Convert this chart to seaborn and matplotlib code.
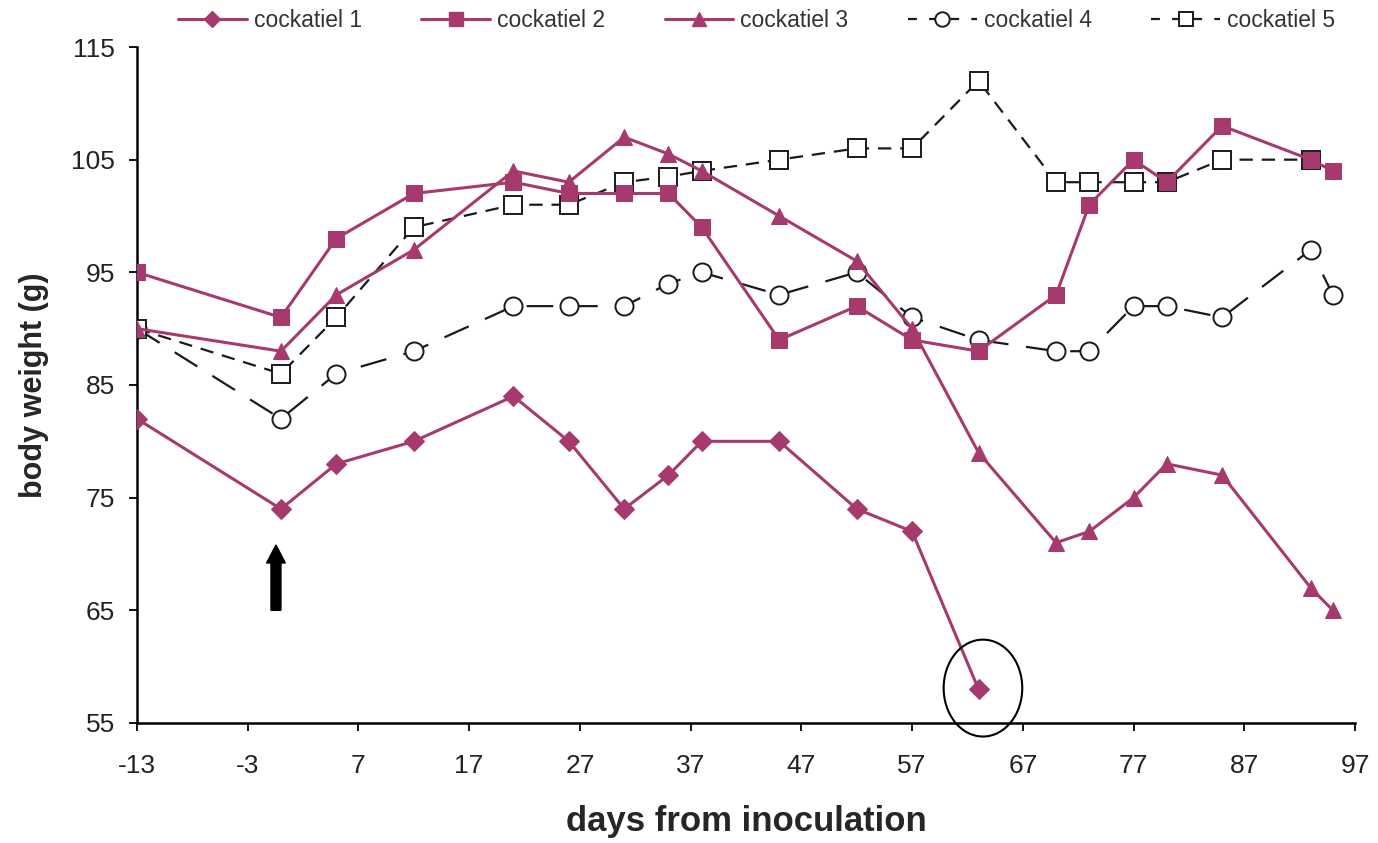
import matplotlib
matplotlib.use("Agg")
import matplotlib.pyplot as plt
import seaborn as sns
import pandas as pd
from matplotlib.patches import Ellipse, FancyArrow
from matplotlib.lines import Line2D

# ---- data ----
days_c1 = [-13, 0, 5, 12, 21, 26, 31, 35, 38, 45, 52, 57, 63]
weight_c1 = [82, 74, 78, 80, 84, 80, 74, 77, 80, 80, 74, 72, 58]

days_full = [-13, 0, 5, 12, 21, 26, 31, 35, 38, 45, 52, 57, 63, 70, 73, 77, 80, 85, 93, 95]
weight_c2 = [95, 91, 98, 102, 103, 102, 102, 102, 99, 89, 92, 89, 88, 93, 101, 105, 103, 108, 105, 104]
weight_c3 = [90, 88, 93, 97, 104, 103, 107, 105.5, 104, 100, 96, 90, 79, 71, 72, 75, 78, 77, 67, 65]
weight_c4 = [90, 82, 86, 88, 92, 92, 92, 94, 95, 93, 95, 91, 89, 88, 88, 92, 92, 91, 97, 93]

days_c5 = [-13, 0, 5, 12, 21, 26, 31, 35, 38, 45, 52, 57, 63, 70, 73, 77, 80, 85, 93]
weight_c5 = [90, 86, 91, 99, 101, 101, 103, 103.5, 104, 105, 106, 106, 112, 103, 103, 103, 103, 105, 105]

series_names = ["cockatiel 1", "cockatiel 2", "cockatiel 3", "cockatiel 4", "cockatiel 5"]
x_ticks = [-13, -3, 7, 17, 27, 37, 47, 57, 67, 77, 87, 97]
y_ticks = [55, 65, 75, 85, 95, 105, 115]

MAG = "#A63A6E"

sns.set_theme(style="ticks")
plt.rcParams["font.family"] = ["Liberation Sans", "DejaVu Sans"]
plt.rcParams["axes.unicode_minus"] = False

fig = plt.figure(figsize=(13.78, 8.43), dpi=100)
ax = fig.add_axes([137 / 1378, 1 - 723 / 843, (1355 - 137) / 1378, 676 / 843])

specs = [
    (days_c1, weight_c1, dict(color=MAG, marker="D", markersize=10, markerfacecolor=MAG,
                              markeredgecolor=MAG, linewidth=2.2), None),
    (days_full, weight_c2, dict(color=MAG, marker="s", markersize=12, markerfacecolor=MAG,
                                markeredgecolor=MAG, linewidth=2.2), None),
    (days_full, weight_c3, dict(color=MAG, marker="^", markersize=12, markerfacecolor=MAG,
                                markeredgecolor=MAG, linewidth=2.2), None),
    (days_full, weight_c4, dict(color="#1a1a1a", marker="o", markersize=13, markerfacecolor="white",
                                markeredgecolor="#1a1a1a", markeredgewidth=1.4, linewidth=1.6), (12, 8)),
    (days_c5, weight_c5, dict(color="#1a1a1a", marker="s", markersize=13, markerfacecolor="white",
                              markeredgecolor="#1a1a1a", markeredgewidth=1.4, linewidth=1.6), (6, 4)),
]

handles = []
leg_handles = []
for (xs, ys, kw, dash), name in zip(specs, series_names):
    df = pd.DataFrame({"day": xs, "weight": ys})
    n_before = len(ax.lines)
    sns.lineplot(data=df, x="day", y="weight", ax=ax, legend=False, **kw)
    line = ax.lines[n_before]
    if dash is not None:
        line.set_dashes(dash)
    line.set_label(name)
    handles.append(line)
    proxy = Line2D([], [], **kw)
    if dash is not None:
        proxy.set_dashes((4, 5.5))
    leg_handles.append(proxy)

for h in handles[:3]:
    h.set_zorder(4)
for h in handles[3:]:
    h.set_zorder(3)

ax.set_xlim(-13, 97)
ax.set_ylim(55, 115)
ax.set_xticks(x_ticks)
ax.set_yticks(y_ticks)
ax.tick_params(axis="both", labelsize=19, length=6, width=1.3, color="black", labelcolor="#222222")
ax.tick_params(axis="x", pad=16)
ax.tick_params(axis="y", pad=10)
for s in ["top", "right"]:
    ax.spines[s].set_visible(False)
for s in ["left", "bottom"]:
    ax.spines[s].set_linewidth(1.8)
    ax.spines[s].set_color("black")
    ax.spines[s].set_clip_on(False)

ax.set_xlabel("days from inoculation", fontsize=25, fontweight="bold", labelpad=20)
ax.set_ylabel("body weight (g)", fontsize=22, fontweight="bold", labelpad=16)

# annotations: arrow and circle
arrow = FancyArrow(-0.45, 65.0, 0, 5.8, width=0.9, head_width=1.7, head_length=1.6,
                   length_includes_head=True, color="black", zorder=5)
ax.add_patch(arrow)
ell = Ellipse((63.4, 58.1), width=7.1, height=8.6, fill=False, edgecolor="black",
              linewidth=1.5, clip_on=False, zorder=6)
ax.add_patch(ell)

leg = fig.legend(handles=leg_handles, labels=series_names, ncol=5, loc="center",
                 bbox_to_anchor=(0.549, 0.976), frameon=False, fontsize=16.5,
                 handlelength=3.0, columnspacing=2.6, handletextpad=0.3, markerscale=0.8)
for t in leg.get_texts():
    t.set_color("#333333")

fig.savefig("out.png", dpi=100, facecolor="white")
